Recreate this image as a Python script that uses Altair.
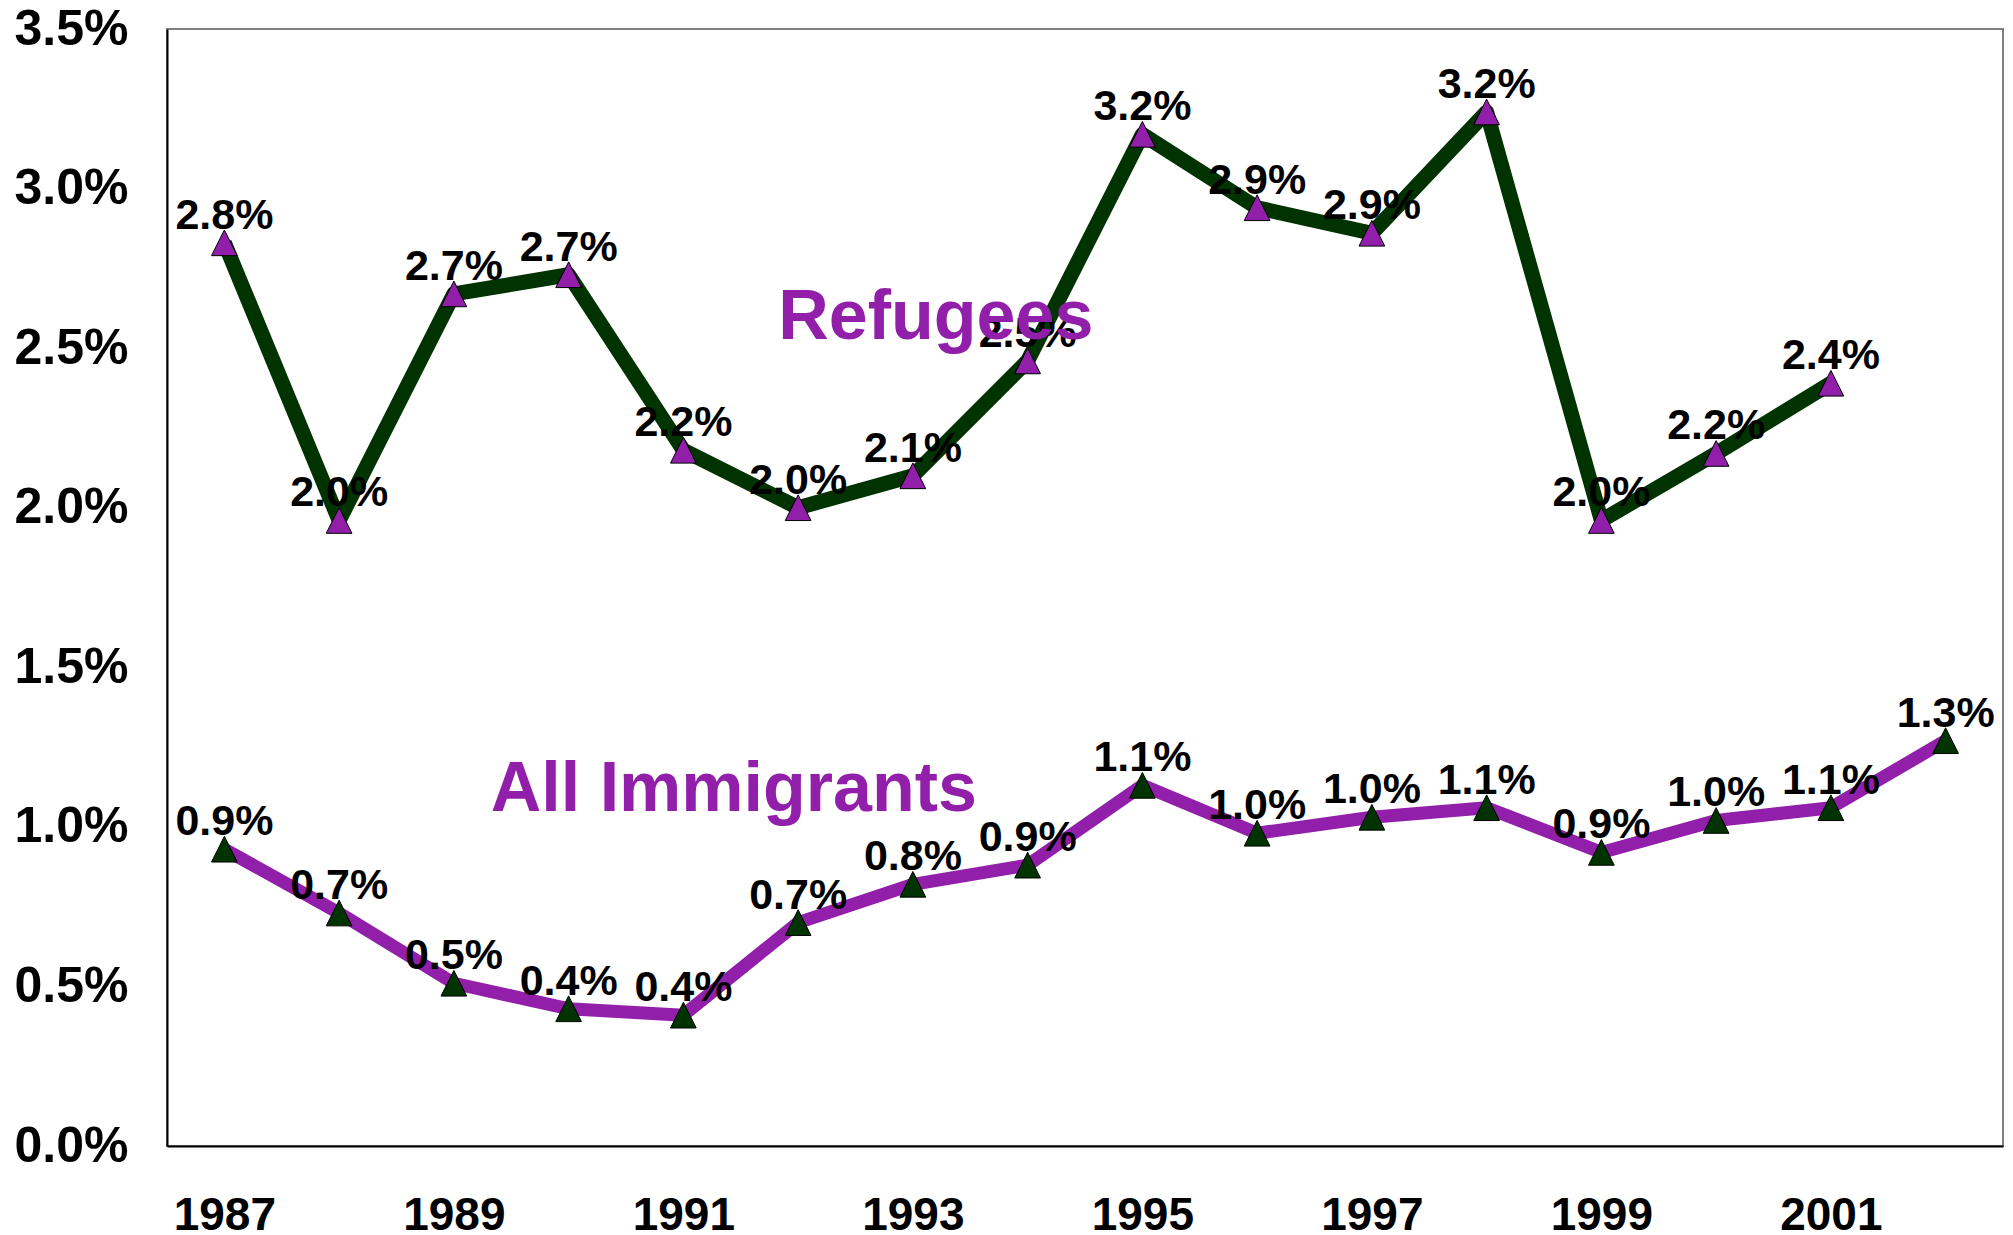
import altair as alt
import pandas as pd

# ---- data ----
years_ref = list(range(1987, 2002))
refugees = [2.83, 1.96, 2.67, 2.73, 2.18, 2.00, 2.10, 2.46, 3.17, 2.94, 2.86, 3.24, 1.96, 2.17, 2.39]
years_all = list(range(1987, 2003))
all_imm = [0.93, 0.73, 0.51, 0.43, 0.41, 0.70, 0.82, 0.88, 1.13, 0.98, 1.03, 1.06, 0.92, 1.02, 1.06, 1.27]

x_ticks = list(range(1987, 2002, 2))
y_ticks = [0.0, 0.5, 1.0, 1.5, 2.0, 2.5, 3.0, 3.5]

series_names = ["Refugees", "All Immigrants"]
series_x = [1993.2, 1991.44]
series_y = [2.53, 1.05]

PURPLE = "#921FA9"
GREEN = "#003300"
FONT = "Liberation Sans"

df_ref = pd.DataFrame({"year": years_ref, "value": refugees})
df_all = pd.DataFrame({"year": years_all, "value": all_imm})
df_names = pd.DataFrame({"name": series_names, "year": series_x, "value": series_y})

x_enc = alt.X(
    "year:Q",
    scale=alt.Scale(domain=[1986.5, 2002.5], nice=False, zero=False),
    axis=alt.Axis(
        values=x_ticks, format="d", title=None, grid=False, ticks=False,
        labelFont=FONT, labelFontSize=46, labelFontWeight="bold", labelColor="black",
        labelPadding=47, labelFlush=False, labelOverlap=False,
        domainColor="black", domainWidth=2,
    ),
)
y_enc = alt.Y(
    "value:Q",
    scale=alt.Scale(domain=[0, 3.5], nice=False, zero=True),
    axis=alt.Axis(
        values=y_ticks, labelExpr="format(datum.value, '.1f') + '%'", title=None,
        grid=False, ticks=False,
        labelFont=FONT, labelFontSize=50, labelFontWeight="bold", labelColor="black",
        labelPadding=39, labelFlush=False, labelOverlap=False,
        domainColor="black", domainWidth=2,
    ),
)

TRI = "M0,-1L1,1L-1,1Z"

line_ref = alt.Chart(df_ref).mark_line(color=GREEN, strokeWidth=15, strokeJoin="round").encode(x=x_enc, y=y_enc)
line_all = alt.Chart(df_all).mark_line(color=PURPLE, strokeWidth=13, strokeJoin="round").encode(x=x_enc, y=y_enc)

pts_ref = alt.Chart(df_ref).mark_point(
    shape=TRI, size=660, filled=True, fill=PURPLE, stroke="black", strokeWidth=1, opacity=1
).encode(x=x_enc, y=y_enc)
pts_all = alt.Chart(df_all).mark_point(
    shape=TRI, size=660, filled=True, fill=GREEN, stroke="black", strokeWidth=1, opacity=1
).encode(x=x_enc, y=y_enc)

def labels(df):
    return alt.Chart(df).transform_calculate(
        lab="format(datum.value, '.1f') + '%'"
    ).mark_text(
        font=FONT, fontSize=43, fontWeight="bold", color="black",
        align="center", baseline="alphabetic", dy=-14,
    ).encode(x=x_enc, y=y_enc, text="lab:N")

names = alt.Chart(df_names).mark_text(
    font=FONT, fontSize=70, fontWeight="bold", color=PURPLE,
    align="center", baseline="alphabetic",
).encode(x=x_enc, y=y_enc, text="name:N")

chart = alt.layer(
    line_ref, line_all, pts_ref, pts_all, labels(df_ref), labels(df_all), names
).properties(
    width=1836, height=1117,
    autosize=alt.AutoSizeParams(type="none"),
    padding={"left": 159, "top": 21, "right": 2, "bottom": 88},
    background="white",
).configure_view(stroke="#808080", strokeWidth=2)

chart.save("out.html", embed_options={"renderer": "svg", "actions": False})
